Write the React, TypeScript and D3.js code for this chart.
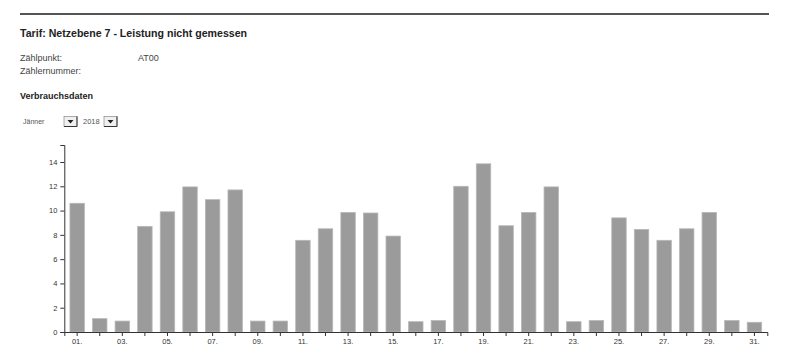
import React, { useEffect, useRef } from "react";
import * as d3 from "d3";

const days = ["01.","02.","03.","04.","05.","06.","07.","08.","09.","10.","11.","12.","13.","14.","15.","16.","17.","18.","19.","20.","21.","22.","23.","24.","25.","26.","27.","28.","29.","30.","31."];
const values = [10.6,1.1,0.9,8.7,9.9,11.95,10.9,11.7,0.9,0.9,7.55,8.5,9.85,9.8,7.9,0.85,0.95,12.0,13.85,8.75,9.85,11.95,0.85,0.95,9.4,8.45,7.55,8.5,9.85,0.95,0.8];
const yTicks = [0,2,4,6,8,10,12,14];
const yMax = 15.4;

const W = 792, H = 357;
const M = { left: 64.3, right: 767.3, top: 145, bottom: 332 };

export default function App() {
  const ref = useRef<SVGGElement>(null);
  useEffect(() => {
    document.body.style.margin = "0";
    const g = d3.select(ref.current);
    g.selectAll("*").remove();
    const x = d3.scaleBand<string>().domain(days).range([M.left, M.right]).paddingInner(0.36).paddingOuter(0.25);
    const y = d3.scaleLinear().domain([0, yMax]).range([M.bottom, M.top]);

    g.selectAll("rect.bar").data(values).join("rect")
      .attr("class", "bar")
      .attr("x", (_, i) => x(days[i])!)
      .attr("width", x.bandwidth())
      .attr("y", d => y(d))
      .attr("height", d => y(0) - y(d))
      .attr("fill", "#9b9b9b")
      .attr("stroke", "#b8b8b8")
      .attr("stroke-width", 0.8);

    const ya = g.append("g").attr("transform", `translate(${M.left},0)`)
      .call(d3.axisLeft(y).tickValues(yTicks).tickSize(4).tickSizeOuter(4).tickPadding(3));
    const xa = g.append("g").attr("transform", `translate(0,${M.bottom})`)
      .call(d3.axisBottom(x).tickSize(4).tickSizeOuter(4).tickPadding(3)
        .tickFormat((d, i) => (i % 2 === 0 ? d : "")));
    [ya, xa].forEach(a => {
      a.selectAll("path").attr("stroke", "#333").attr("stroke-width", 1);
      a.selectAll("line").attr("stroke", "#333");
      a.selectAll("text").attr("fill", "#333").attr("font-size", 7.5).attr("font-family", "Liberation Sans, Arial, sans-serif");
    });
  }, []);

  const font = "Liberation Sans, Arial, sans-serif";
  return (
    <svg width={W} height={H} style={{ display: "block", background: "#fff" }}>
      <line x1={20} x2={769} y1={14} y2={14} stroke="#555" strokeWidth={2} />
      <text x={20} y={37} fontFamily={font} fontSize={10.6} fontWeight="bold" fill="#222">Tarif: Netzebene 7 - Leistung nicht gemessen</text>
      <text x={20} y={61} fontFamily={font} fontSize={9} fill="#444">Zählpunkt:</text>
      <text x={138} y={61} fontFamily={font} fontSize={9} fill="#444">AT00</text>
      <text x={20} y={74} fontFamily={font} fontSize={9} fill="#444">Zählernummer:</text>
      <text x={20} y={99} fontFamily={font} fontSize={9} fontWeight="bold" fill="#222">Verbrauchsdaten</text>
      <text x={23} y={124} fontFamily={font} fontSize={7} fill="#555">Jänner</text>
      <g>
        <rect x={64} y={116.5} width={13} height={10} fill="#f0f0f0" stroke="#777" strokeWidth={0.6} />
        <path d="M67.5,120 L73.5,120 L70.5,123.5 Z" fill="#222" />
        <line x1={77} x2={77} y1={116.5} y2={126.5} stroke="#333" />
        <line x1={64} x2={77} y1={126.5} y2={126.5} stroke="#333" />
      </g>
      <text x={83} y={124} fontFamily={font} fontSize={7.5} fill="#555">2018</text>
      <g>
        <rect x={104} y={116.5} width={13} height={10} fill="#f0f0f0" stroke="#777" strokeWidth={0.6} />
        <path d="M107.5,120 L113.5,120 L110.5,123.5 Z" fill="#222" />
        <line x1={117} x2={117} y1={116.5} y2={126.5} stroke="#333" />
        <line x1={104} x2={117} y1={126.5} y2={126.5} stroke="#333" />
      </g>
      <g ref={ref} />
    </svg>
  );
}
